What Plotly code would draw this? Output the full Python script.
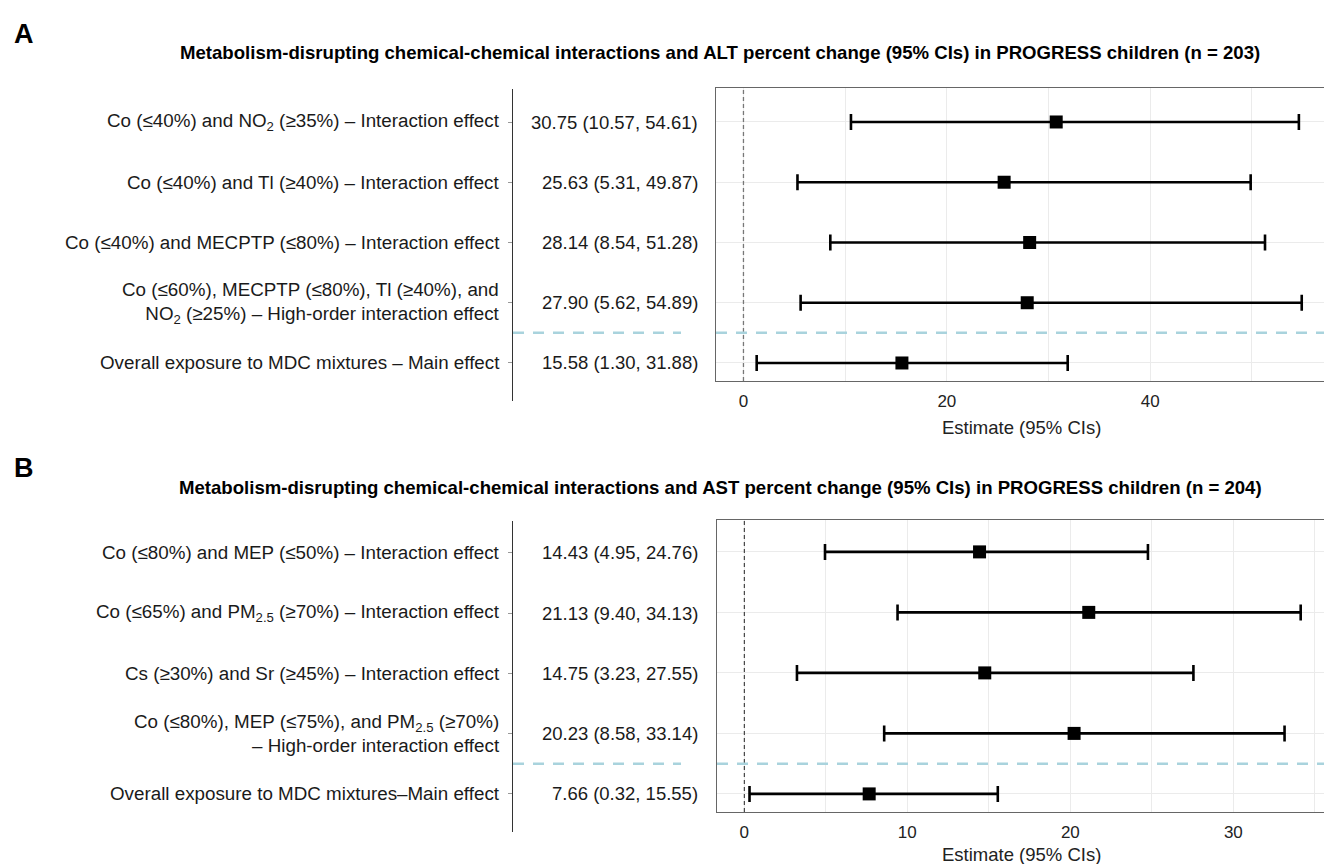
import plotly.graph_objects as go

W, H = 1324, 864

# ---------------- data ----------------
labels_a = [
    "Co (≤40%) and NO<sub>2</sub> (≥35%) – Interaction effect",
    "Co (≤40%) and Tl (≥40%) – Interaction effect",
    "Co (≤40%) and MECPTP (≤80%) – Interaction effect",
    "Co (≤60%), MECPTP (≤80%), Tl (≥40%), and<br>NO<sub>2</sub> (≥25%) – High-order interaction effect",
    "Overall exposure to MDC mixtures – Main effect",
]
est_a = [30.75, 25.63, 28.14, 27.90, 15.58]
lo_a = [10.57, 5.31, 8.54, 5.62, 1.30]
hi_a = [54.61, 49.87, 51.28, 54.89, 31.88]

labels_b = [
    "Co (≤80%) and MEP (≤50%) – Interaction effect",
    "Co (≤65%) and PM<sub>2.5</sub> (≥70%) – Interaction effect",
    "Cs (≥30%) and Sr (≥45%) – Interaction effect",
    "Co (≤80%), MEP (≤75%), and PM<sub>2.5</sub> (≥70%)<br>– High-order interaction effect",
    "Overall exposure to MDC mixtures–Main effect",
]
est_b = [14.43, 21.13, 14.75, 20.23, 7.66]
lo_b = [4.95, 9.40, 3.23, 8.58, 0.32]
hi_b = [24.76, 34.13, 27.55, 33.14, 15.55]

rows = [5, 4, 3, 2, 1]
ticks_a = [0, 20, 40]
ticks_b = [0, 10, 20, 30]

title_a = "Metabolism-disrupting chemical-chemical interactions and ALT percent change (95% CIs) in PROGRESS children (n = 203)"
title_b = "Metabolism-disrupting chemical-chemical interactions and AST percent change (95% CIs) in PROGRESS children (n = 204)"
xlabel = "Estimate (95% CIs)"

FONT = "Liberation Sans, Arial, sans-serif"
LAB_SIZE = 18.8
VAL_SIZE = 18.5


def px_x(p):
    return p / W


def px_y(p):
    return 1 - p / H


fig = go.Figure()

panels = [
    dict(est=est_a, lo=lo_a, hi=hi_a, labels=labels_a, xa="x", ya="y", ta="y3", tx="x3",
         zero_color="#777777", zero_w=1.3),
    dict(est=est_b, lo=lo_b, hi=hi_b, labels=labels_b, xa="x2", ya="y2", ta="y4", tx="x4",
         zero_color="#222222", zero_w=1.0),
]

for p in panels:
    fig.add_trace(go.Scatter(
        x=p["est"], y=rows, mode="markers",
        marker=dict(symbol="square", size=13, color="black"),
        error_x=dict(type="data", symmetric=False,
                     array=[h - e for h, e in zip(p["hi"], p["est"])],
                     arrayminus=[e - l for e, l in zip(p["est"], p["lo"])],
                     color="black", thickness=2.6, width=8),
        xaxis=p["xa"], yaxis=p["ya"], showlegend=False, hoverinfo="skip",
    ))
    # invisible trace for table axis
    fig.add_trace(go.Scatter(x=[0.5] * 5, y=rows, mode="markers", marker=dict(opacity=0),
                             xaxis=p["tx"], yaxis=p["ta"], showlegend=False, hoverinfo="skip"))
    # zero reference line
    fig.add_shape(type="line", xref=p["xa"], yref=p["ya"] + " domain", x0=0, x1=0, y0=0, y1=1,
                  line=dict(color=p["zero_color"], width=p["zero_w"], dash="4px,3px"))
    # blue separator dashed line in plot
    fig.add_shape(type="line", xref=p["xa"] + " domain", yref=p["ya"], x0=0, x1=1, y0=1.5, y1=1.5,
                  line=dict(color="#a9d3dd", width=2.5, dash="11px,9px"))
    # blue dashed line in value column
    fig.add_shape(type="line", xref="paper", yref=p["ta"], x0=px_x(513), x1=px_x(681), y0=1.5, y1=1.5,
                  line=dict(color="#a9d3dd", width=2.5, dash="11px,9px"))
    # labels and values
    for r, lab, e, l, h in zip(rows, p["labels"], p["est"], p["lo"], p["hi"]):
        fig.add_annotation(x=px_x(502), y=r, xref="paper", yref=p["ta"], text=lab,
                           xanchor="right", yanchor="middle", align="right", showarrow=False,
                           font=dict(family=FONT, size=LAB_SIZE, color="#1a1a1a"))
        fig.add_annotation(x=px_x(700), y=r, xref="paper", yref=p["ta"],
                           text=f"{e:.2f} ({l:.2f}, {h:.2f})",
                           xanchor="right", yanchor="middle", showarrow=False,
                           font=dict(family=FONT, size=VAL_SIZE, color="#1a1a1a"))

common_x = dict(showgrid=True, gridcolor="#ebebeb", gridwidth=1, zeroline=False,
                showline=True, linecolor="#666666", linewidth=1.2, mirror=True,
                ticks="", tickfont=dict(family=FONT, size=17, color="#222222"),
                ticklabelstandoff=4)
common_y = dict(showgrid=True, gridcolor="#ebebeb", gridwidth=1, zeroline=False,
                showline=True, linecolor="#666666", linewidth=1.2, mirror=False,
                ticks="", showticklabels=False, tickmode="array", tickvals=rows)

fig.update_layout(
    width=W, height=H, autosize=False,
    margin=dict(l=0, r=0, t=0, b=0),
    paper_bgcolor="white", plot_bgcolor="white",
    xaxis=dict(domain=[px_x(716), 1], range=[-2.70, 57.08], anchor="y",
               tickmode="array", tickvals=ticks_a,
               minor=dict(dtick=10, showgrid=True, gridcolor="#ebebeb"), **common_x),
    yaxis=dict(domain=[px_y(381), px_y(88)], range=[0.701, 5.564], anchor="x", **common_y),
    xaxis2=dict(domain=[px_x(717), 1], range=[-1.675, 35.56], anchor="y2",
                tickmode="array", tickvals=ticks_b,
                minor=dict(dtick=5, showgrid=True, gridcolor="#ebebeb"), **common_x),
    yaxis2=dict(domain=[px_y(812), px_y(520)], range=[0.701, 5.527], anchor="x2", **common_y),
    xaxis3=dict(domain=[0, px_x(512)], range=[0, 1], anchor="y3", visible=False),
    yaxis3=dict(domain=[px_y(401), px_y(89)], range=[0.369, 5.548], anchor="free",
                position=px_x(512), side="left", showline=True, linecolor="#333333", linewidth=1,
                ticks="outside", ticklen=4, tickcolor="#999999", tickmode="array", tickvals=rows,
                showticklabels=False, showgrid=False, zeroline=False),
    xaxis4=dict(domain=[0, px_x(512)], range=[0, 1], anchor="y4", visible=False),
    yaxis4=dict(domain=[px_y(832), px_y(521)], range=[0.369, 5.531], anchor="free",
                position=px_x(512), side="left", showline=True, linecolor="#333333", linewidth=1,
                ticks="outside", ticklen=4, tickcolor="#999999", tickmode="array", tickvals=rows,
                showticklabels=False, showgrid=False, zeroline=False),
)

# panel letters, titles, x-axis titles
for letter, ly, title, ty, xt_y in [("A", 34, title_a, 52, 427), ("B", 468, title_b, 488, 854)]:
    fig.add_annotation(x=px_x(12), y=px_y(ly), xref="paper", yref="paper", text=f"<b>{letter}</b>",
                       xanchor="left", yanchor="middle", showarrow=False,
                       font=dict(family=FONT, size=27, color="black"))
    fig.add_annotation(x=px_x(720), y=px_y(ty), xref="paper", yref="paper", text=f"<b>{title}</b>",
                       xanchor="center", yanchor="middle", showarrow=False,
                       font=dict(family=FONT, size=18.6, color="black"))
    fig.add_annotation(x=px_x(1022), y=px_y(xt_y), xref="paper", yref="paper", text=xlabel,
                       xanchor="center", yanchor="middle", showarrow=False,
                       font=dict(family=FONT, size=18.5, color="#222222"))

fig.write_html("out.html")
